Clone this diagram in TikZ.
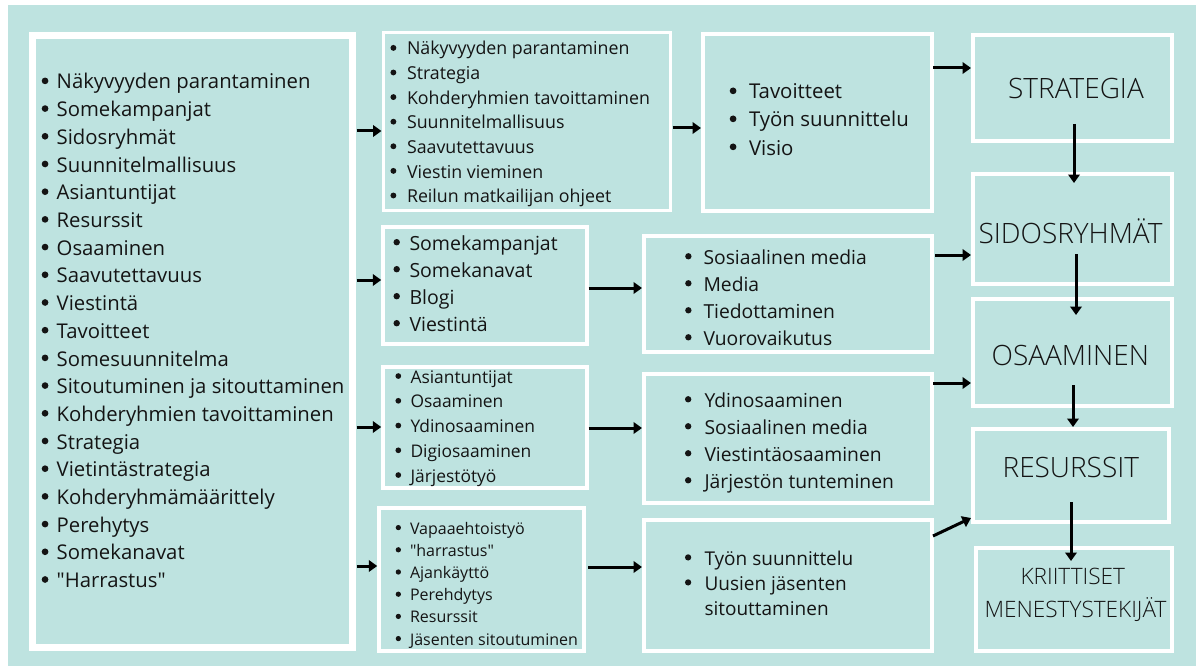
\documentclass[tikz,border=0pt]{standalone}
\usepackage{fontspec}
\setmainfont{Open Sans}
\IfFontExistsTF{Open Sans Light}{\newfontfamily\ttlfont{Open Sans Light}}{\newfontfamily\ttlfont{Open Sans}}
\usetikzlibrary{arrows.meta,calc}
\definecolor{bg}{RGB}{190,227,224}
\definecolor{ink}{RGB}{20,20,20}
\tikzset{
  box/.style={draw=white, rectangle, inner sep=0pt, outer sep=0pt, line width=4pt},
  item/.style={inner sep=0pt, outer sep=0pt, text=ink},
  ttl/.style={inner sep=0pt, outer sep=0pt, text=ink, anchor=base},
  arr/.style={line width=3pt, draw=black, -{Triangle[length=8.5pt,width=11.5pt]}},
}
\newcommand\blist[7]{\foreach \t [count=\i from 0] in {#7}{%
  \fill[ink] ({#2+0.19*#5},{#3+\i*#4-0.4*#5}) circle[radius={0.165*#5}];
  \node[item,font=\fontsize{#5}{#5}\selectfont,anchor=base west] (#1-\i) at ({#2+#6},{#3+\i*#4}) {\t};}}
\begin{document}
\begin{tikzpicture}[x=1pt,y=-1pt]
\useasboundingbox (0,0) rectangle (1196,666);
\fill[white] (0,0) rectangle (1196,666);
\fill[bg] (8,5) rectangle (1196,666);

% boxes
\node[box, line width=7pt, minimum width=320pt, minimum height=612pt] (big) at (192.5,341.5) {};
\node[box, line width=3pt, minimum width=287pt, minimum height=177pt] (A) at (526.5,121.5) {};
\node[box, minimum width=229pt, minimum height=176.5pt] (B) at (817.5,122.75) {};
\node[box, minimum width=199pt, minimum height=106pt] (strat) at (1072.5,88) {};
\node[box, minimum width=199pt, minimum height=110pt] (sidos) at (1072.5,229) {};
\node[box, minimum width=199pt, minimum height=107pt] (osaa) at (1072.5,352.5) {};
\node[box, minimum width=196pt, minimum height=93pt] (res) at (1071,475.5) {};
\node[box, minimum width=196pt, minimum height=103pt] (krit) at (1074,599.5) {};
\node[box, line width=3.5pt, minimum width=204pt, minimum height=117pt] (C) at (485,285.5) {};
\node[box, minimum width=288pt, minimum height=116pt] (D) at (788,294) {};
\node[box, line width=3.5pt, minimum width=204pt, minimum height=121pt] (E) at (485,427.5) {};
\node[box, minimum width=288pt, minimum height=129pt] (F) at (788,438.5) {};
\node[box, line width=3.5pt, minimum width=205pt, minimum height=143pt] (G) at (481.5,579.5) {};
\node[box, minimum width=288pt, minimum height=131pt] (H) at (788,585.5) {};

% lists
\blist{bl}{41.2}{89}{27.7}{20.3}{15.5}{Näkyvyyden parantaminen,Somekampanjat,Sidosryhmät,Suunnitelmallisuus,Asiantuntijat,Resurssit,Osaaminen,Saavutettavuus,Viestintä,Tavoitteet,Somesuunnitelma,Sitoutuminen ja sitouttaminen,Kohderyhmien tavoittaminen,Strategia,Vietintästrategia,Kohderyhmämäärittely,Perehytys,Somekanavat,\textquotedbl Harrastus\textquotedbl}
\blist{al}{390}{55}{24.6}{17.8}{17}{Näkyvyyden parantaminen,Strategia,Kohderyhmien tavoittaminen,Suunnitelmallisuus,Saavutettavuus,Viestin vieminen,Reilun matkailijan ohjeet}
\blist{bb}{729.2}{99}{28}{20.4}{19.8}{Tavoitteet,Työn suunnittelu,Visio}
\blist{cl}{393}{250}{27}{19.5}{16.5}{Somekampanjat,Somekanavat,Blogi,Viestintä}
\blist{dl}{684.7}{264}{27}{19.3}{18.8}{Sosiaalinen media,Media,Tiedottaminen,Vuorovaikutus}
\blist{el}{395}{383}{24.75}{17.4}{15.5}{Asiantuntijat,Osaaminen,Ydinosaaminen,Digiosaaminen,Järjestötyö}
\blist{fl}{684.5}{407}{27}{19.3}{20}{Ydinosaaminen,Sosiaalinen media,Viestintäosaaminen,Järjestön tunteminen}
\blist{gl}{395.3}{534}{22.2}{16}{14.7}{Vapaaehtoistyö,\textquotedbl harrastus\textquotedbl,Ajankäyttö,Perehdytys,Resurssit,Jäsenten sitoutuminen}
\blist{hl}{684.5}{565}{25}{19}{20}{Työn suunnittelu,Uusien jäsenten}
\node[item,font=\fontsize{19}{19}\selectfont,anchor=base west] (hl-2) at (704.5,615) {sitouttaminen};

% titles
\node[ttl, font=\ttlfont\fontsize{28}{28}\selectfont] (tstrat) at (1076,99) {STRATEGIA};
\node[ttl, font=\ttlfont\fontsize{28}{28}\selectfont] (tsidos) at (1070.5,243) {SIDOSRYHMÄT};
\node[ttl, font=\ttlfont\fontsize{28}{28}\selectfont] (tosaa) at (1070.3,365) {OSAAMINEN};
\node[ttl, font=\ttlfont\fontsize{28}{28}\selectfont] (tres) at (1070.8,477) {RESURSSIT};
\node[ttl, font=\ttlfont\fontsize{22.6}{22.6}\selectfont] (tkrit1) at (1072.7,584.7) {KRIITTISET};
\node[ttl, font=\ttlfont\fontsize{22.6}{22.6}\selectfont] (tkrit2) at (1075.5,617.4) {MENESTYSTEKIJÄT};

% arrows
\coordinate (tA) at ($(A.west)+(-1.5,9.5)$);
\coordinate (tC) at ($(C.west)+(-1.75,-5.5)$);
\coordinate (tE) at ($(E.west)+(-1.75,-0.5)$);
\coordinate (tG) at ($(G.west)+(-1.75,-13.5)$);
\draw[arr] ($(big.east |- tA)+(4,0)$) -- (tA);
\draw[arr] ($(big.east |- tC)+(4,0)$) -- (tC);
\draw[arr] ($(big.east |- tE)+(4,0)$) -- (tE);
\draw[arr] ($(big.east |- tG)+(4,0)$) -- (tG);

\coordinate (tB) at ($(B.west)+(-2,5.25)$);
\draw[arr] ($(A.east |- tB)+(2.5,0)$) -- (tB);
\coordinate (tD) at ($(D.west)+(-2,-6)$);
\draw[arr] ($(C.east |- tD)+(1.5,0)$) -- (tD);
\coordinate (tF) at ($(F.west)+(-2,-10.5)$);
\draw[arr] ($(E.east |- tF)+(1.5,0)$) -- (tF);
\coordinate (tH) at ($(H.west)+(-2,-18.5)$);
\draw[arr] ($(G.east |- tH)+(4,0)$) -- (tH);

\coordinate (tS) at ($(strat.west)+(-2,-20)$);
\draw[arr] ($(B.east |- tS)+(1,0)$) -- (tS);
\coordinate (tSi) at ($(sidos.west)+(-2,26)$);
\draw[arr] ($(D.east |- tSi)+(3,0)$) -- (tSi);
\coordinate (tO) at ($(osaa.west)+(-2,30.5)$);
\draw[arr] ($(F.east |- tO)+(1,0)$) -- (tO);
\draw[arr] ($(H.east)+(1,-49.5)$) -- ($(res.west)+(-2,42.5)$);

\draw[arr] ($(strat.south)+(1.5,-17)$) -- ($(sidos.north)+(1.5,9)$);
\draw[arr] ($(sidos.south)+(3.5,-30)$) -- ($(osaa.north)+(3.5,16)$);
\draw[arr] ($(osaa.south)+(0.5,-21)$) -- ($(res.north)+(2,-2)$);
\draw[arr] ($(res.south)+(0,-20)$) -- ($(krit.north)+(-3,13)$);
\end{tikzpicture}
\end{document}
